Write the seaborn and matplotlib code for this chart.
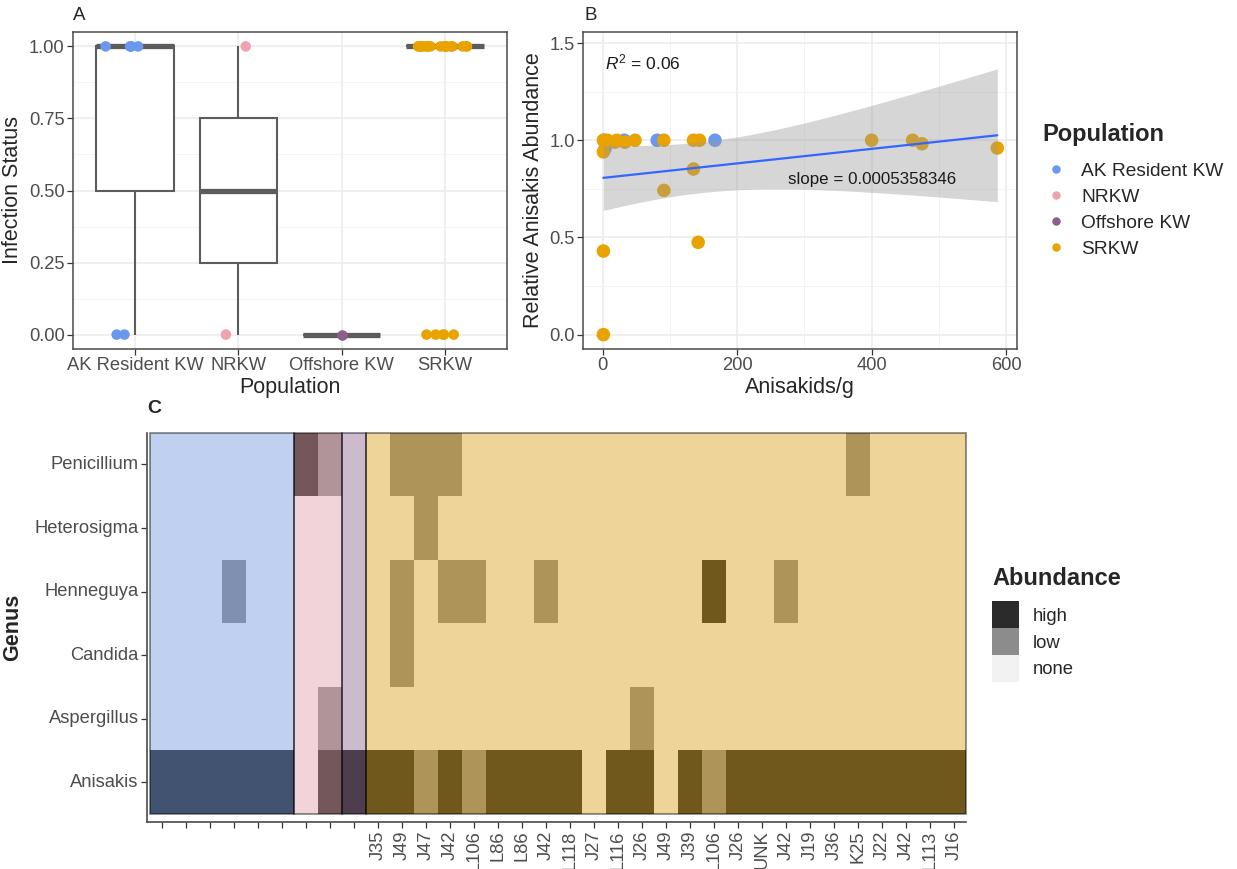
import numpy as np
import pandas as pd
import matplotlib
matplotlib.use("Agg")
import matplotlib.pyplot as plt
from matplotlib.colors import ListedColormap
from matplotlib.patches import Rectangle, Patch
from matplotlib.ticker import FixedLocator
import seaborn as sns

# ---------------------------------------------------------------- data
populations = ["AK Resident KW", "NRKW", "Offshore KW", "SRKW"]
pop_colors = ["#6A98EE", "#EFA3B0", "#8B5E8E", "#E9A300"]

# Panel A : infection status (0 / 1) per individual
status_ak = [1, 1, 1, 1, 1, 0, 0]
status_nrkw = [1, 0]
status_offshore = [0]
status_srkw = [1, 1, 1, 1, 1, 1, 1, 1, 1, 1, 1, 1, 1, 1, 1, 1, 1, 1, 1, 1,
               0, 0, 0, 0, 0]

# Panel B : anisakids per gram vs relative Anisakis abundance
b_population = ["AK Resident KW", "AK Resident KW", "AK Resident KW",
                "AK Resident KW", "AK Resident KW",
                "SRKW", "SRKW", "SRKW", "SRKW", "SRKW", "SRKW", "SRKW",
                "SRKW", "SRKW", "SRKW", "SRKW", "SRKW", "SRKW", "SRKW",
                "SRKW", "SRKW", "SRKW", "SRKW", "SRKW"]
b_anisakids = [2, 3.5, 32, 81, 167,
               1, 1, 1, 1, 7, 18, 21, 33, 48, 91, 91, 135, 144, 135, 142,
               400, 461, 475, 587]
b_rel_abund = [1.0, 0.957, 1.0, 1.0, 1.0,
               1.0, 0.94, 0.43, 0.0, 1.0, 0.99, 1.0, 0.99, 1.0, 1.0, 0.742,
               1.0, 1.0, 0.852, 0.475, 1.0, 1.0, 0.982, 0.96]
r2_text = "0.06"
slope_text = "0.0005358346"

# Panel C : abundance class per genus and sample (0 none, 1 low, 2 high)
abundance_levels = ["none", "low", "high"]
abundance_greys = ["#F2F2F2", "#8C8C8C", "#2B2B2B"]
genera = ["Penicillium", "Heterosigma", "Henneguya", "Candida",
          "Aspergillus", "Anisakis"]
pop_counts = [6, 2, 1, 25]
sample_labels = ["", "", "", "", "", "", "", "", "",
                 "J35", "J49", "J47", "J42", "L106", "L86", "L86", "J42",
                 "L118", "J27", "L116", "J26", "J49", "J39", "L106", "J26",
                 "UNK", "J42", "J19", "J36", "K25", "J22", "J42", "L113",
                 "J16"]
penicillium = [0, 0, 0, 0, 0, 0, 2, 1, 0,
               0, 1, 1, 1, 0, 0, 0, 0, 0, 0, 0, 0, 0, 0, 0, 0, 0, 0, 0, 0,
               1, 0, 0, 0, 0]
heterosigma = [0, 0, 0, 0, 0, 0, 0, 0, 0,
               0, 0, 1, 0, 0, 0, 0, 0, 0, 0, 0, 0, 0, 0, 0, 0, 0, 0, 0, 0,
               0, 0, 0, 0, 0]
henneguya = [0, 0, 0, 1, 0, 0, 0, 0, 0,
             0, 1, 0, 1, 1, 0, 0, 1, 0, 0, 0, 0, 0, 0, 2, 0, 0, 1, 0, 0,
             0, 0, 0, 0, 0]
candida = [0, 0, 0, 0, 0, 0, 0, 0, 0,
           0, 1, 0, 0, 0, 0, 0, 0, 0, 0, 0, 0, 0, 0, 0, 0, 0, 0, 0, 0,
           0, 0, 0, 0, 0]
aspergillus = [0, 0, 0, 0, 0, 0, 0, 1, 0,
               0, 0, 0, 0, 0, 0, 0, 0, 0, 0, 0, 1, 0, 0, 0, 0, 0, 0, 0, 0,
               0, 0, 0, 0, 0]
anisakis = [2, 2, 2, 2, 2, 2, 0, 2, 2,
            2, 2, 1, 2, 1, 2, 2, 2, 2, 0, 2, 2, 0, 2, 1, 2, 2, 2, 2, 2,
            2, 2, 2, 2, 2]

# ---------------------------------------------------------------- style
sns.set_theme(style="white")
plt.rcParams["font.family"] = ["Liberation Sans", "DejaVu Sans"]
plt.rcParams["mathtext.fontset"] = "custom"
plt.rcParams["mathtext.rm"] = "Liberation Sans"
plt.rcParams["mathtext.it"] = "Liberation Sans:italic"

W, H = 1237, 869
fig = plt.figure(figsize=(W / 100, H / 100), dpi=100)


def px_axes(x0, y0, x1, y1):
    return fig.add_axes([x0 / W, 1 - y1 / H, (x1 - x0) / W, (y1 - y0) / H])


TICK_COL = "#4D4D4D"
BORDER = "#4A4A4A"
GRID = "#EBEBEB"
TICK_FS = 13.2
TITLE_FS = 15.5


def bw_frame(ax):
    for s in ax.spines.values():
        s.set_visible(True)
        s.set_color(BORDER)
        s.set_linewidth(1.1)
    ax.tick_params(axis="both", which="major", length=4, width=0.9,
                   color="#333333", labelcolor=TICK_COL, labelsize=TICK_FS,
                   pad=2, bottom=True, left=True)
    ax.tick_params(axis="both", which="minor", length=0)
    ax.set_axisbelow(True)
    ax.grid(which="major", color=GRID, linewidth=1.1)
    ax.grid(which="minor", color="#F3F3F3", linewidth=0.6)


# ---------------------------------------------------------------- panel A
axA = px_axes(73, 32, 507, 349)
dfA = pd.DataFrame({
    "Population": (["AK Resident KW"] * len(status_ak) + ["NRKW"] * len(status_nrkw)
                   + ["Offshore KW"] * len(status_offshore) + ["SRKW"] * len(status_srkw)),
    "Infection Status": status_ak + status_nrkw + status_offshore + status_srkw,
})
sns.boxplot(data=dfA, x="Population", y="Infection Status", order=populations,
            width=0.75, showfliers=False, showcaps=False, color="white",
            linecolor="#5C5C5C", linewidth=1.5,
            medianprops={"linewidth": 3.8, "color": "#5C5C5C"}, ax=axA, zorder=2)
np.random.seed(2)
sns.stripplot(data=dfA, x="Population", y="Infection Status", order=populations,
              hue="Population", hue_order=populations, palette=pop_colors,
              jitter=0.3, size=7.6, linewidth=0, ax=axA, zorder=3, legend=True)
pop_handles, pop_labels = axA.get_legend_handles_labels()
if axA.get_legend() is not None:
    axA.get_legend().remove()
axA.set_xlim(-0.6, 3.6)
axA.set_ylim(-0.05, 1.05)
axA.yaxis.set_major_locator(FixedLocator([0, 0.25, 0.5, 0.75, 1.0]))
axA.yaxis.set_minor_locator(FixedLocator([0.125, 0.375, 0.625, 0.875]))
axA.set_yticklabels(["0.00", "0.25", "0.50", "0.75", "1.00"])
bw_frame(axA)
axA.set_xlabel("Population", fontsize=TITLE_FS, labelpad=2)
axA.set_ylabel("Infection Status", fontsize=TITLE_FS, labelpad=4)

# ---------------------------------------------------------------- panel B
axB = px_axes(583, 32, 1017, 349)
dfB = pd.DataFrame({"Population": b_population, "Anisakids/g": b_anisakids,
                    "Relative Anisakis Abundance": b_rel_abund})
sns.scatterplot(data=dfB, x="Anisakids/g", y="Relative Anisakis Abundance",
                hue="Population", hue_order=populations, palette=pop_colors,
                s=95, linewidth=0, legend=False, ax=axB, zorder=2)
fit_df = dfB[dfB["Population"] == "SRKW"]
sns.regplot(data=fit_df, x="Anisakids/g", y="Relative Anisakis Abundance",
            scatter=False, ci=None, color="#3366FF",
            line_kws={"linewidth": 1.6, "zorder": 4}, ax=axB)
# analytic 95 % confidence band of the linear fit (as in geom_smooth(method="lm"))
xs = fit_df["Anisakids/g"].to_numpy(float)
ys = fit_df["Relative Anisakis Abundance"].to_numpy(float)
n_fit = len(xs)
b1, b0 = np.polyfit(xs, ys, 1)
resid = ys - (b0 + b1 * xs)
s_res = np.sqrt((resid ** 2).sum() / (n_fit - 2))
try:
    from scipy import stats
    t_crit = stats.t.ppf(0.975, n_fit - 2)
except Exception:
    t_crit = 2.11
grid = np.linspace(xs.min(), xs.max(), 200)
se = s_res * np.sqrt(1 / n_fit + (grid - xs.mean()) ** 2 / ((xs - xs.mean()) ** 2).sum())
fitv = b0 + b1 * grid
axB.fill_between(grid, fitv - t_crit * se, fitv + t_crit * se, color="#999999",
                 alpha=0.4, linewidth=0, zorder=3)
axB.set_xlim(-29.35, 616.35)
axB.set_ylim(-0.074, 1.557)
axB.xaxis.set_major_locator(FixedLocator([0, 200, 400, 600]))
axB.xaxis.set_minor_locator(FixedLocator([100, 300, 500]))
axB.yaxis.set_major_locator(FixedLocator([0, 0.5, 1.0, 1.5]))
axB.yaxis.set_minor_locator(FixedLocator([0.25, 0.75, 1.25]))
axB.set_yticklabels(["0.0", "0.5", "1.0", "1.5"])
axB.set_xticklabels(["0", "200", "400", "600"])
bw_frame(axB)
axB.set_xlabel("Anisakids/g", fontsize=TITLE_FS, labelpad=2)
axB.set_ylabel("Relative Anisakis Abundance", fontsize=TITLE_FS, labelpad=4)
axB.text(3, 1.40, r"$R^2$ = " + r2_text, fontsize=12.5, ha="left", va="center",
         color="#1A1A1A")
axB.text(400, 0.80, "slope = " + slope_text, fontsize=12.2, ha="center",
         va="center", color="#1A1A1A")

# ---------------------------------------------------------------- panel C
axC = px_axes(147, 432.7, 966, 822)
abund = np.array([penicillium, heterosigma, henneguya, candida, aspergillus, anisakis])
col_pop = np.repeat(np.arange(len(populations)), pop_counts)
popmat = np.tile(col_pop, (len(genera), 1))
sns.heatmap(abund, ax=axC, cmap=ListedColormap(abundance_greys), vmin=-0.5,
            vmax=2.5, cbar=False, xticklabels=sample_labels, yticklabels=genera)
sns.heatmap(popmat, ax=axC, cmap=ListedColormap(pop_colors), vmin=-0.5,
            vmax=len(populations) - 0.5, cbar=False, alpha=0.37,
            xticklabels=sample_labels, yticklabels=genera)
starts = np.concatenate([[0], np.cumsum(pop_counts)[:-1]])
for s0, n in zip(starts, pop_counts):
    axC.add_patch(Rectangle((s0, 0), n, len(genera), fill=False,
                            edgecolor=(0, 0, 0, 0.45), linewidth=1.3,
                            clip_on=False, zorder=5))
axC.set_xlim(-0.125, abund.shape[1])
axC.set_ylim(len(genera) + 0.126, 0)
for side in ["top", "right"]:
    axC.spines[side].set_visible(False)
for side in ["left", "bottom"]:
    axC.spines[side].set_visible(True)
    axC.spines[side].set_color("#4A4A4A")
    axC.spines[side].set_linewidth(1.2)
axC.tick_params(axis="both", length=4, width=0.9, color="#333333",
                labelcolor=TICK_COL, labelsize=TICK_FS, pad=2,
                bottom=True, left=True)
axC.tick_params(axis="x", labelrotation=90)
axC.tick_params(axis="y", labelrotation=0)
axC.set_xlabel("")
axC.set_ylabel("Genus", fontsize=TITLE_FS, fontweight="bold", labelpad=8)

# ---------------------------------------------------------------- panel tags
fig.text(73 / W, 1 - 7 / H, "A", fontsize=13.5, ha="left", va="top")
fig.text(585 / W, 1 - 7 / H, "B", fontsize=13.5, ha="left", va="top")
fig.text(147 / W, 1 - 400 / H, "C", fontsize=14, fontweight="bold",
         ha="left", va="top")

# ---------------------------------------------------------------- legends
leg1 = fig.legend(pop_handles, pop_labels, title="Population",
                  loc="upper left", bbox_to_anchor=(1042 / W, 1 - 123 / H),
                  frameon=False, fontsize=13.8, borderpad=0, borderaxespad=0,
                  handlelength=1.46, handletextpad=0.6, labelspacing=0.45,
                  markerscale=0.8, alignment="left",
                  title_fontproperties={"weight": "bold", "size": 17})
leg1._legend_box.sep = 12

ab_handles = [Patch(facecolor=abundance_greys[i], edgecolor="none")
              for i in [2, 1, 0]]
ab_labels = [abundance_levels[i] for i in [2, 1, 0]]
leg2 = fig.legend(ab_handles, ab_labels, title="Abundance", loc="upper left",
                  bbox_to_anchor=(992 / W, 1 - 567 / H), frameon=False,
                  fontsize=13.3, borderpad=0, borderaxespad=0,
                  handlelength=1.46, handleheight=1.87, handletextpad=0.75,
                  labelspacing=0.0, alignment="left",
                  title_fontproperties={"weight": "bold", "size": 17})
leg2._legend_box.sep = 8

fig.savefig("out.png", dpi=100)
